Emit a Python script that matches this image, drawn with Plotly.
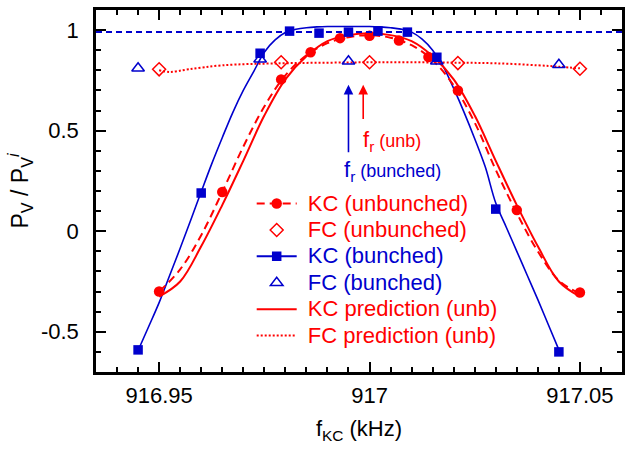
import plotly.graph_objects as go

# ---- measured data -------------------------------------------------------
# KC, unbunched beam (filled circles)
kc_unb_x = [916.95, 916.965, 916.979, 916.986, 916.993, 917.0, 917.007, 917.014, 917.021, 917.035, 917.05]
kc_unb_y = [-0.30, 0.195, 0.755, 0.89, 0.96, 0.972, 0.948, 0.866, 0.70, 0.105, -0.305]

# FC, unbunched beam (open diamonds)
fc_unb_x = [916.95, 916.979, 917.0, 917.021, 917.05]
fc_unb_y = [0.805, 0.84, 0.84, 0.836, 0.808]

# KC, bunched beam (filled squares)
kc_b_x = [916.945, 916.96, 916.974, 916.981, 916.988, 916.995, 917.002, 917.009, 917.016, 917.03, 917.045]
kc_b_y = [-0.59, 0.19, 0.885, 0.995, 0.985, 0.99, 0.995, 0.99, 0.865, 0.11, -0.60]

# FC, bunched beam (open triangles)
fc_b_x = [916.945, 916.974, 916.995, 917.016, 917.045]
fc_b_y = [0.81, 0.855, 0.845, 0.845, 0.828]

# fitted curve through the bunched KC data
kc_b_fit_x = [916.945, 916.9475, 916.95, 916.9525, 916.955, 916.9575, 916.96, 916.9625, 916.965,
              916.9675, 916.97, 916.9725, 916.975, 916.9775, 916.98, 916.9825, 916.985, 916.9875,
              916.99, 916.9925, 916.995, 916.9975, 917.0, 917.0025, 917.005, 917.0075, 917.01,
              917.0125, 917.015, 917.0175, 917.02, 917.0225, 917.025, 917.0275, 917.03, 917.0325,
              917.035, 917.0375, 917.04, 917.0425, 917.045]
kc_b_fit_y = [-0.593, -0.475, -0.355, -0.22, -0.085, 0.055, 0.196, 0.335, 0.465,
              0.59, 0.70, 0.795, 0.89, 0.95, 0.988, 1.004, 1.012, 1.016,
              1.018, 1.018, 1.018, 1.018, 1.018, 1.016, 1.012, 1.005, 0.99,
              0.955, 0.90, 0.82, 0.71, 0.59, 0.46, 0.32, 0.14, 0.02,
              -0.10, -0.22, -0.34, -0.465, -0.59]

# fitted curve through the unbunched KC data (dashed)
kc_unb_fit_x = [916.95, 916.955, 916.96, 916.965, 916.97, 916.975, 916.98, 916.985, 916.99, 916.995,
                917.0, 917.005, 917.01, 917.015, 917.02, 917.025, 917.03, 917.035, 917.04, 917.045, 917.05]
kc_unb_fit_y = [-0.30, -0.19, -0.02, 0.195, 0.42, 0.62, 0.775, 0.875, 0.935, 0.965,
                0.975, 0.962, 0.925, 0.85, 0.725, 0.54, 0.305, 0.09, -0.10, -0.245, -0.31]

# KC prediction, unbunched (solid)
kc_pred_x = [916.95, 916.955, 916.96, 916.965, 916.97, 916.975, 916.98, 916.985, 916.99, 916.995,
             917.0, 917.005, 917.01, 917.015, 917.02, 917.025, 917.03, 917.035, 917.04, 917.045, 917.05]
kc_pred_y = [-0.325, -0.25, -0.075, 0.13, 0.35, 0.575, 0.755, 0.87, 0.945, 0.975,
             0.984, 0.975, 0.945, 0.87, 0.755, 0.575, 0.35, 0.13, -0.075, -0.25, -0.325]

# FC prediction, unbunched (dotted)
fc_pred_x = [916.95, 916.9525, 916.957, 916.965, 916.979, 916.99, 917.0, 917.01, 917.021, 917.03, 917.04, 917.045, 917.05]
fc_pred_y = [0.80, 0.792, 0.805, 0.825, 0.835, 0.838, 0.84, 0.84, 0.838, 0.835, 0.825, 0.818, 0.81]

# reference level and resonance frequencies
unity_level = 0.99
f_r_bunched = 916.995
f_r_unb = 916.9985
arrow_tip = 0.728
arrow_tail_bunched = 0.385
arrow_tail_unb = 0.55

x_range = [916.935, 917.06]
y_range = [-0.7, 1.1]
x_ticks = [916.95, 917.0, 917.05]
x_ticktext = ["916.95", "917", "917.05"]
y_ticks = [-0.5, 0, 0.5, 1]
y_ticktext = ["-0.5", "0", "0.5", "1"]

# ---- styling --------------------------------------------------------------
RED = "rgb(255,0,0)"
BLUE = "rgb(0,0,205)"
FONT = "Liberation Sans, Arial, Helvetica, sans-serif"


def legend_label(text, color):
    # larger glyphs on a compact legend row
    return f"<span style='color:{color};font-size:22px'>\u00a0{text}</span>"


fig = go.Figure()

# curves (drawn underneath the markers)
fig.add_trace(go.Scatter(x=kc_b_fit_x, y=kc_b_fit_y, mode="lines", line=dict(color=BLUE, width=1.6, shape="spline"),
                         showlegend=False, hoverinfo="skip"))
fig.add_trace(go.Scatter(x=kc_pred_x, y=kc_pred_y, mode="lines", line=dict(color=RED, width=2, shape="spline"),
                         name=legend_label("KC prediction (unb)", RED), legendrank=5))
fig.add_trace(go.Scatter(x=kc_unb_fit_x, y=kc_unb_fit_y, mode="lines",
                         line=dict(color=RED, width=2, dash="8px,5px", shape="spline"),
                         showlegend=False, hoverinfo="skip"))
fig.add_trace(go.Scatter(x=fc_pred_x, y=fc_pred_y, mode="lines",
                         line=dict(color=RED, width=2, dash="2px,2px", shape="spline"),
                         name=legend_label("FC prediction (unb)", RED), legendrank=6))

# data points
fig.add_trace(go.Scatter(x=kc_unb_x, y=kc_unb_y, mode="markers",
                         marker=dict(symbol="circle", size=10.5, color=RED),
                         showlegend=False))
fig.add_trace(go.Scatter(x=fc_unb_x, y=fc_unb_y, mode="markers",
                         marker=dict(symbol="diamond-open", size=10, color=RED, line=dict(width=1.5, color=RED)),
                         name=legend_label("FC (unbunched)", RED), legendrank=2))
fig.add_trace(go.Scatter(x=kc_b_x, y=kc_b_y, mode="markers",
                         marker=dict(symbol="square", size=9.5, color=BLUE),
                         showlegend=False))
fig.add_trace(go.Scatter(x=fc_b_x, y=fc_b_y, mode="markers",
                         marker=dict(symbol="triangle-up-open", size=11, color=BLUE, line=dict(width=1.5, color=BLUE)),
                         name=legend_label("FC (bunched)", BLUE), legendrank=4))

# legend entries combining line and marker styles
fig.add_trace(go.Scatter(x=[None], y=[None], mode="lines+markers",
                         line=dict(color=RED, width=2, dash="8px,5px"),
                         marker=dict(symbol="circle", size=10.5, color=RED),
                         name=legend_label("KC (unbunched)", RED), legendrank=1))
fig.add_trace(go.Scatter(x=[None], y=[None], mode="lines+markers",
                         line=dict(color=BLUE, width=2),
                         marker=dict(symbol="square", size=9.5, color=BLUE),
                         name=legend_label("KC (bunched)", BLUE), legendrank=3))

# unity reference line
fig.add_shape(type="line", xref="paper", x0=0, x1=1, yref="y", y0=unity_level, y1=unity_level,
              line=dict(color=BLUE, width=2, dash="6px,4px"))

# resonance-frequency arrows and labels
fig.add_annotation(x=f_r_bunched, y=arrow_tip, ax=f_r_bunched, ay=arrow_tail_bunched,
                   xref="x", yref="y", axref="x", ayref="y", text="", showarrow=True,
                   arrowhead=2, arrowsize=1.2, arrowwidth=1.6, arrowcolor=BLUE)
fig.add_annotation(x=f_r_unb, y=arrow_tip, ax=f_r_unb, ay=arrow_tail_unb,
                   xref="x", yref="y", axref="x", ayref="y", text="", showarrow=True,
                   arrowhead=2, arrowsize=1.2, arrowwidth=1.6, arrowcolor=RED)
fig.add_annotation(x=916.9979, y=0.45, xref="x", yref="y", xanchor="left", yanchor="middle", showarrow=False,
                   text="f<sub>r</sub><span style='font-size:18px'> (unb)</span>",
                   font=dict(family=FONT, size=22, color=RED))
fig.add_annotation(x=916.9934, y=0.30, xref="x", yref="y", xanchor="left", yanchor="middle", showarrow=False,
                   text="f<sub>r</sub><span style='font-size:18px'> (bunched)</span>",
                   font=dict(family=FONT, size=22, color=BLUE))

axis_common = dict(
    showline=True, linecolor="black", linewidth=2.5, mirror="allticks",
    ticks="inside", ticklen=10, tickwidth=2, tickcolor="black",
    showgrid=False, zeroline=False,
    tickfont=dict(family=FONT, size=22, color="black"),
)

fig.update_xaxes(range=x_range, tickmode="array", tickvals=x_ticks, ticktext=x_ticktext,
                 minor=dict(tickmode="linear", tick0=916.95, dtick=0.005, ticks="inside", ticklen=5,
                            tickwidth=2, tickcolor="black"),
                 title_text="f<sub>KC</sub> (kHz)", title_standoff=14, ticklabelstandoff=2,
                 title_font=dict(family=FONT, size=22, color="black"), **axis_common)
fig.update_yaxes(range=y_range, tickmode="array", tickvals=y_ticks, ticktext=y_ticktext,
                 minor=dict(tickmode="linear", tick0=0, dtick=0.1, ticks="inside", ticklen=5,
                            tickwidth=2, tickcolor="black"),
                 title_text="P<sub>V</sub> / P<sub>V</sub><sup><i>i</i></sup>", title_standoff=6,
                 ticklabelstandoff=10, title_font=dict(family=FONT, size=23, color="black"), **axis_common)

fig.update_layout(
    width=632, height=452,
    margin=dict(l=96, r=9, t=7, b=80),
    paper_bgcolor="white", plot_bgcolor="white",
    font=dict(family=FONT, size=22),
    legend=dict(x=0.296, y=0.5156, xanchor="left", yanchor="top", bgcolor="rgba(0,0,0,0)",
                font=dict(family=FONT, size=18), itemwidth=40, tracegroupgap=0),
)

fig.write_html("out.html")
